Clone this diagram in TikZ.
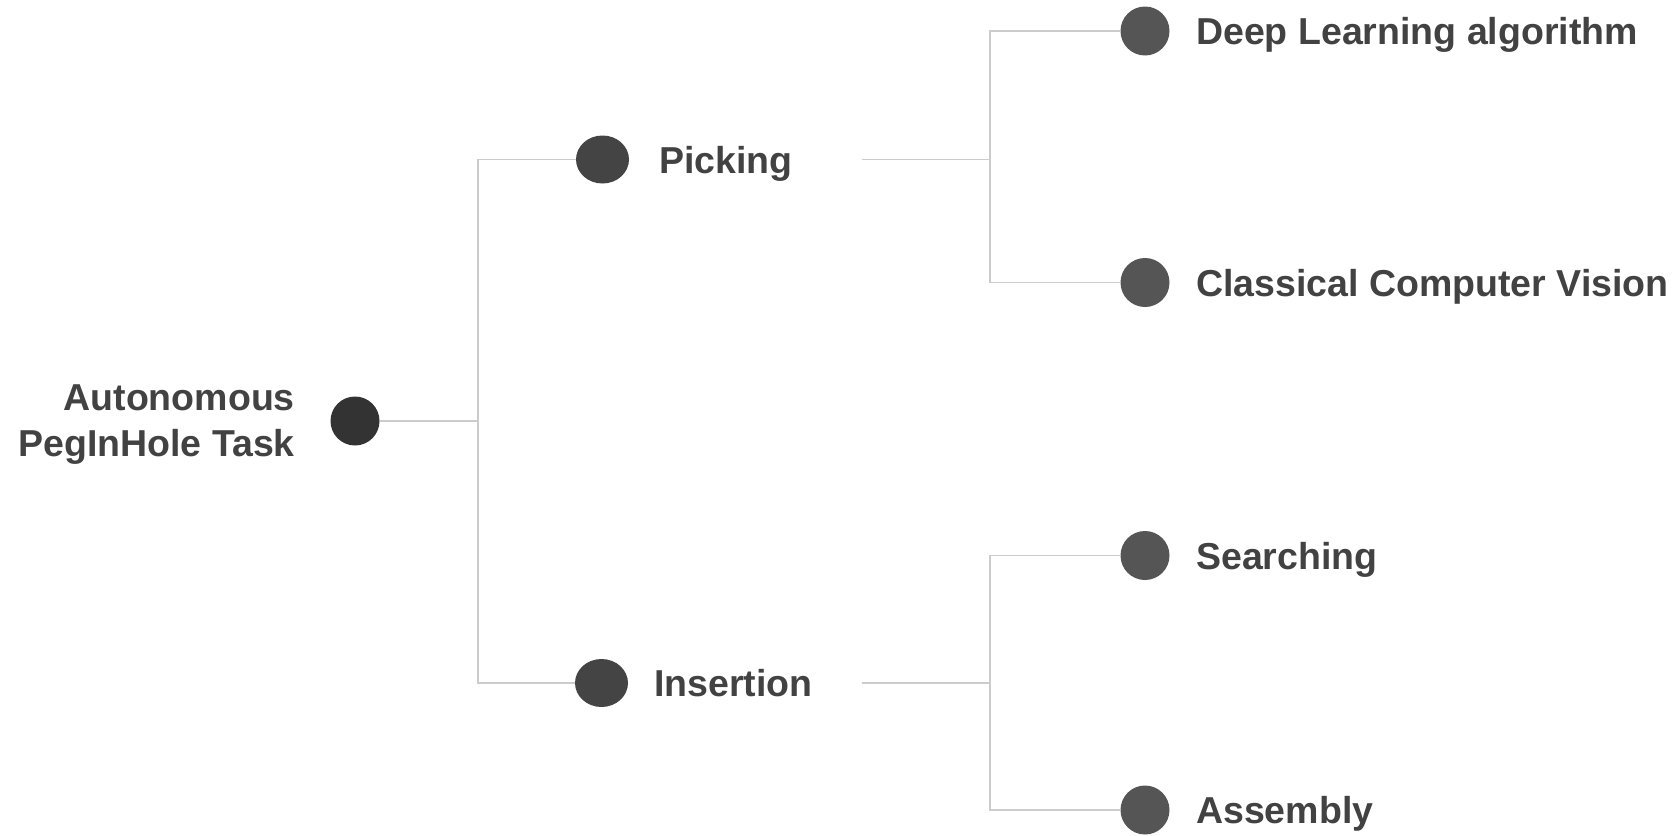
\documentclass[tikz,border=0pt]{standalone}
\usepackage{fontspec}
\usetikzlibrary{shapes.geometric}
\setmainfont{Liberation Sans}
\definecolor{linec}{HTML}{CCCCCC}
\definecolor{rootc}{HTML}{333333}
\definecolor{midc}{HTML}{444444}
\definecolor{leafc}{HTML}{555555}
\definecolor{textc}{HTML}{424242}
\begin{document}
\begin{tikzpicture}[x=1pt,y=-1pt,
  conn/.style={draw=linec,line width=1.6pt},
  rootdot/.style={circle,fill=rootc,minimum size=49pt,inner sep=0pt},
  middot/.style={ellipse,fill=midc,minimum width=53pt,minimum height=48pt,inner sep=0pt},
  leafdot/.style={circle,fill=leafc,minimum size=49pt,inner sep=0pt},
  lbl/.style={font=\fontsize{37.5}{46}\selectfont\bfseries,text=textc,inner sep=0pt},
]
\useasboundingbox (0,0) rectangle (1678,835);
\coordinate (rj) at (478,421);
\coordinate (pe) at (861.5,159.5);
\coordinate (pj) at (990,159.5);
\coordinate (ie) at (861.5,683);
\coordinate (ij) at (990,683);
\node[rootdot] (root) at (355,421) {};
\node[middot] (pick) at (602.5,159.5) {};
\node[middot] (ins) at (601.5,683) {};
\node[leafdot] (deep) at (1145,31) {};
\node[leafdot] (cls) at (1145,282.5) {};
\node[leafdot] (srch) at (1145,555.5) {};
\node[leafdot] (asm) at (1145,810) {};
\draw[conn] (root.east) -- (rj);
\draw[conn] (rj) |- (pick.west);
\draw[conn] (rj) |- (ins.west);
\draw[conn] (pe) -- (pj);
\draw[conn] (pj) |- (deep.west);
\draw[conn] (pj) |- (cls.west);
\draw[conn] (ie) -- (ij);
\draw[conn] (ij) |- (srch.west);
\draw[conn] (ij) |- (asm.west);
\node[lbl,anchor=north east,align=right] (rootl) at (295,384.6) {Autonomous\\PegInHole Task};
\node[lbl,anchor=base west] (pickl) at (659,173) {Picking};
\node[lbl,anchor=base west] (insl) at (654,696.5) {Insertion};
\node[lbl,anchor=base west] (deepl) at (1196,44.5) {Deep Learning algorithm};
\node[lbl,anchor=base west] (clsl) at (1196,296.5) {Classical Computer Vision};
\node[lbl,anchor=base west] (srchl) at (1196,569) {Searching};
\node[lbl,anchor=base west] (asml) at (1196,823.5) {Assembly};
\end{tikzpicture}
\end{document}
